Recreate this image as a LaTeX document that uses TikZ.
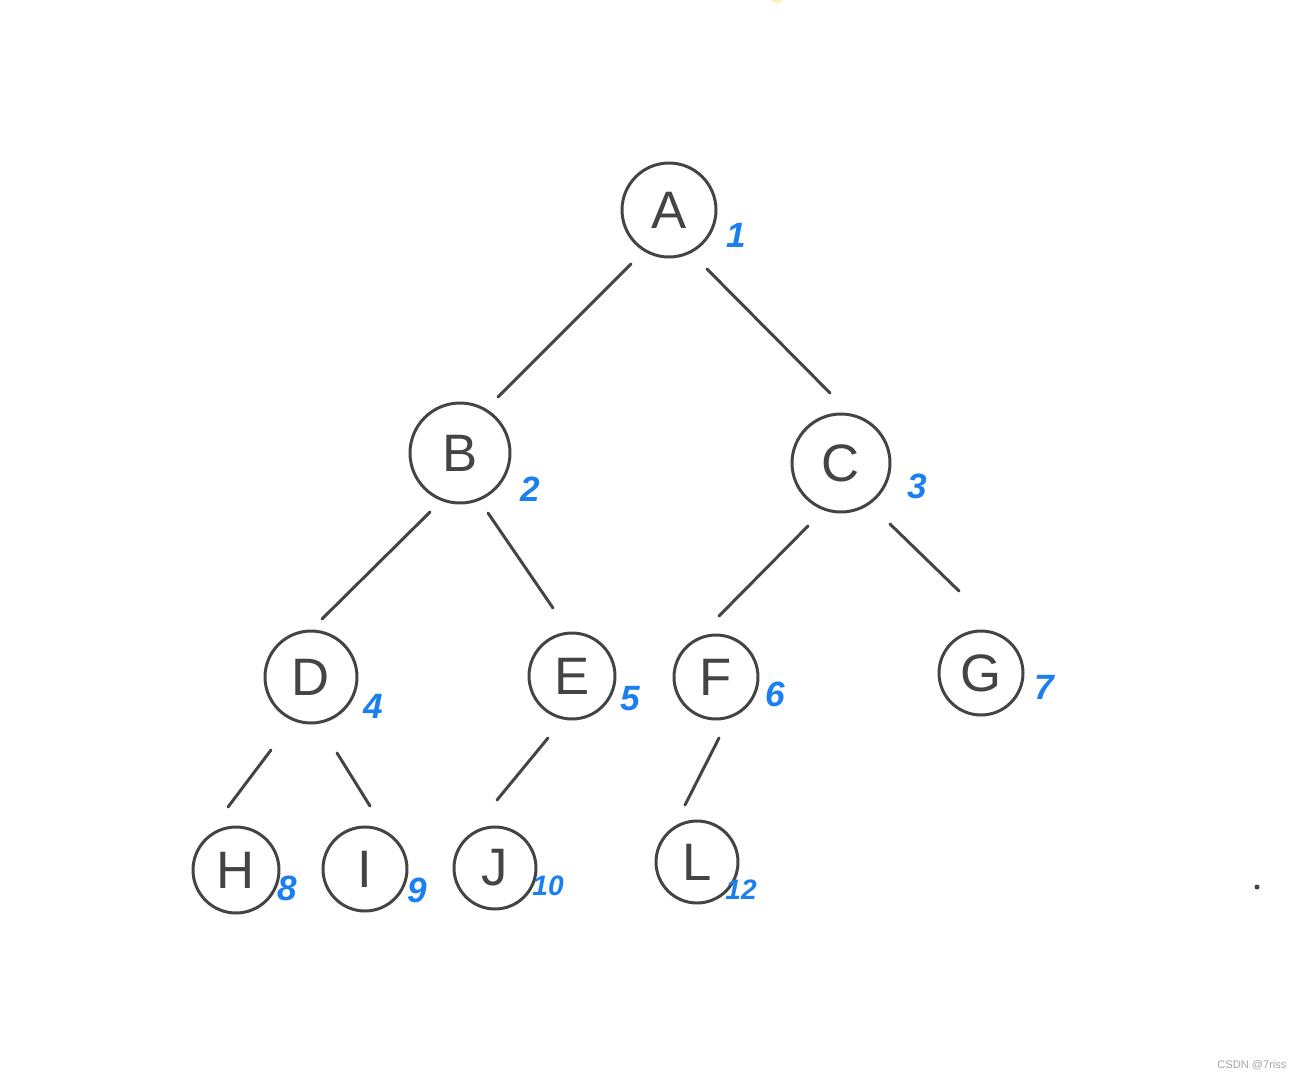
\documentclass[tikz,border=0pt]{standalone}
\usepackage{fontspec}
\setmainfont{Liberation Sans}
\usetikzlibrary{calc}
\definecolor{ink}{HTML}{444444}
\definecolor{num}{HTML}{1A7FF0}
\begin{document}
\begin{tikzpicture}[x=0.02cm,y=-0.02cm,
  vtx/.style={circle,draw=ink,line width=1.7pt,inner sep=0pt,text=ink,font=\fontsize{30}{30}\selectfont},
  edge/.style={draw=ink,line width=1.7pt,line cap=round},
  idx/.style={text=num,font=\fontsize{20}{20}\selectfont\bfseries\itshape,inner sep=0pt}]
\useasboundingbox[fill=white] (0,0) rectangle (1301,1079);
\fill[yellow!60!orange,opacity=0.25] (777,-2) ellipse (7 and 5);
% vertices
\node[vtx,minimum size=1.88cm] (A) at (669,210) {A};
\node[vtx,minimum size=2.00cm] (B) at (460,453) {B};
\node[vtx,minimum size=1.96cm] (C) at (841,463) {C};
\node[vtx,minimum size=1.84cm] (D) at (311,677) {D};
\node[vtx,minimum size=1.72cm] (E) at (572,676) {E};
\node[vtx,minimum size=1.68cm] (F) at (716,677) {F};
\node[vtx,minimum size=1.68cm] (G) at (981,673) {G};
\node[vtx,minimum size=1.72cm] (H) at (236,870) {H};
\node[vtx,minimum size=1.68cm] (I) at (365,869) {I};
\node[vtx,minimum size=1.64cm] (J) at (495,868) {J};
\node[vtx,minimum size=1.64cm] (L) at (697,862) {L};
% edges
\draw[edge] ($(A)+(-38,54)$) -- ($(B)+(38,-56)$);
\draw[edge] ($(A)+(38,59)$) -- ($(C)+(-11,-70)$);
\draw[edge] ($(B)+(-30,59)$) -- ($(D)+(11,-58)$);
\draw[edge] ($(B)+(28,60)$) -- ($(E)+(-19,-68)$);
\draw[edge] ($(C)+(-33,63)$) -- ($(F)+(3,-61)$);
\draw[edge] ($(C)+(49,61)$) -- ($(G)+(-22,-82)$);
\draw[edge] ($(D)+(-40,73)$) -- ($(H)+(-8,-63)$);
\draw[edge] ($(D)+(26,76)$) -- ($(I)+(5,-63)$);
\draw[edge] ($(E)+(-24,62)$) -- ($(J)+(2,-68)$);
\draw[edge] ($(F)+(3,61)$) -- ($(L)+(-12,-57)$);
% order labels
\node[idx] (nA) at (736,235) {1};
\node[idx] (nB) at (530,489) {2};
\node[idx] (nC) at (917,486) {3};
\node[idx] (nD) at (373,706) {4};
\node[idx] (nE) at (630,699) {5};
\node[idx] (nF) at (775,694) {6};
\node[idx] (nG) at (1044,687) {7};
\node[idx] (nH) at (287,888) {8};
\node[idx] (nI) at (417,890) {9};
\node[idx,font=\fontsize{16}{16}\selectfont\bfseries\itshape] (nJ) at (548,886) {10};
\node[idx,font=\fontsize{16}{16}\selectfont\bfseries\itshape] (nL) at (741,890) {12};
% stray dot and watermark
\fill[ink] (1257,887) circle (2.5);
\node[text=gray!70,font=\fontsize{6.3}{6.3}\selectfont,inner sep=0pt] (wm) at (1252,1065) {CSDN @7riss};
\end{tikzpicture}
\end{document}
